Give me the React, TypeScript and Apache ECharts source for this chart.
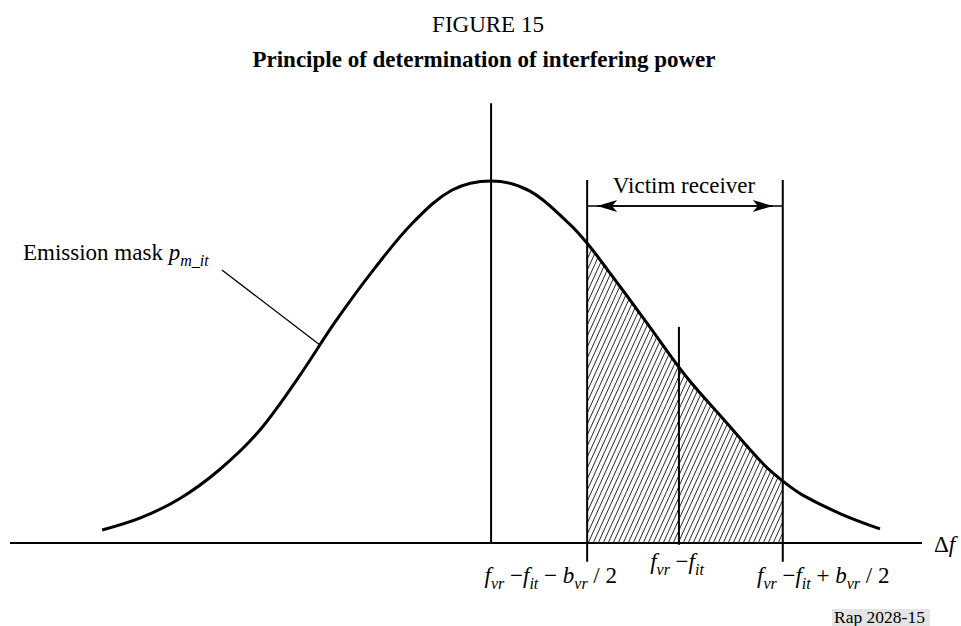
import React, { useEffect, useRef } from 'react';
import * as echarts from 'echarts';

// ---- Data ----
// Emission mask curve: relative frequency offset (x) vs. level (y, peak = 100)
const curveX = [-10, -9, -8, -7, -6, -5, -4, -3, -2, -1, 0, 1, 2, 2.47, 3, 4, 5, 6, 7, 7.5, 8, 9, 10];
const curveY = [3.6, 7.0, 12.3, 20.1, 30.5, 45.0, 61.2, 75.8, 88.6, 97.5, 100, 97.2, 88.3, 82.8, 75.4, 60.9, 46.2, 33.9, 21.8, 17.1, 13.3, 8.0, 3.9];

// Victim receiver band edges and centre (fvr - fit)
const BAND_LO = 2.47;
const BAND_HI = 7.5;
const BAND_CENTER = 4.83;

// Vertical reference lines: x, bottom, top
const vLineX = [0, BAND_LO, BAND_HI, BAND_CENTER];
const vLineBottom = [0, -5.2, -5.2, -0.5];
const vLineTop = [121.5, 100.3, 100.3, 59.7];

// Arrow level for "Victim receiver"
const ARROW_Y = 93.1;

// Leader line for the "Emission mask" label
const leaderX = [-6.92, -4.4];
const leaderY = [75.4, 54.7];

// Axis extents
const X_MIN = -12.37;
const X_MAX = 11.08;
const Y_MIN = -22.93;
const Y_MAX = 150;

// Texts
const FIG_NUMBER = 'FIGURE 15';
const FIG_TITLE = 'Principle of determination of interfering power';
const VICTIM_LABEL = 'Victim receiver';
const REF_LABEL = 'Rap 2028-15';

const FONT = "'Liberation Serif', 'Times New Roman', Times, serif";

const hatchSvg =
  '<svg xmlns="http://www.w3.org/2000/svg" width="5" height="11">' +
  '<path d="M-5 11L0 0M0 11L5 0M5 11L10 0" stroke="#000" stroke-width="0.85" fill="none"/></svg>';
const hatchUrl = 'data:image/svg+xml;charset=utf-8,' + encodeURIComponent(hatchSvg);

const rich: any = {
  n: { fontFamily: FONT, fontSize: 23, fill: '#000', lineHeight: 30 },
  i: { fontFamily: FONT, fontSize: 23, fontStyle: 'italic', fill: '#000', lineHeight: 30 },
  s: { fontFamily: FONT, fontSize: 16, fontStyle: 'italic', fill: '#000', height: 13, lineHeight: 30, verticalAlign: 'bottom' },
};

function buildOption(): any {
  const curve = curveX.map((x, k) => [x, curveY[k]]);
  const band = curve.filter((p) => p[0] >= BAND_LO && p[0] <= BAND_HI);
  const arrowOff = 10 / ((961 - 10 - 39) / (X_MAX - X_MIN));

  const lineSeries = (data: number[][], width: number, z = 4) => ({
    type: 'line',
    data,
    symbol: 'none',
    silent: true,
    z,
    lineStyle: { color: '#000', width },
  });

  const series: any[] = [
    {
      type: 'line',
      data: band,
      smooth: 0.35,
      symbol: 'none',
      silent: true,
      z: 1,
      lineStyle: { width: 0, opacity: 0 },
      areaStyle: {
        opacity: 1,
        color: { image: hatchUrl, repeat: 'repeat', imageWidth: 5, imageHeight: 11 },
      },
    },
    {
      type: 'line',
      data: curve,
      smooth: 0.35,
      symbol: 'none',
      silent: true,
      z: 5,
      lineStyle: { color: '#000', width: 3 },
    },
    lineSeries([[X_MIN, 0], [X_MAX, 0]], 2),
    lineSeries(leaderX.map((x, k) => [x, leaderY[k]]), 1.3),
    ...vLineX.map((x, k) => lineSeries([[x, vLineBottom[k]], [x, vLineTop[k]]], 2)),
    {
      ...lineSeries([[BAND_LO, ARROW_Y], [BAND_HI, ARROW_Y]], 1.6),
      markLine: {
        silent: true,
        symbol: ['arrow', 'arrow'],
        symbolSize: [9, 20],
        label: { show: false },
        lineStyle: { color: '#000', width: 1.6, type: 'solid' },
        data: [[{ coord: [BAND_LO + arrowOff, ARROW_Y] }, { coord: [BAND_HI - arrowOff, ARROW_Y] }]],
      },
    },
  ];

  const text = (x: number, y: number, t: string, align: string, extra: any = {}) => ({
    type: 'text',
    x,
    y,
    silent: true,
    style: {
      text: t,
      fill: '#000',
      fontFamily: FONT,
      fontSize: 23,
      textAlign: align,
      textVerticalAlign: 'middle',
      rich,
      ...extra,
    },
  });

  const graphic: any[] = [
    text(488, 24, FIG_NUMBER, 'center'),
    text(484, 59, FIG_TITLE, 'center', { fontWeight: 'bold' }),
    text(684, 185, VICTIM_LABEL, 'center'),
    text(23, 252, '{n|Emission mask }{i|p}{s|m_it}', 'left'),
    text(934, 544, '{n|Δ}{i|f}', 'left'),
    text(677, 561, '{i|f}{s|vr}{n| −}{i|f}{s|it}', 'center'),
    text(617, 575, '{i|f}{s|vr}{n| −}{i|f}{s|it}{n| − }{i|b}{s|vr}{n| / 2}', 'right'),
    text(757, 575, '{i|f}{s|vr}{n| −}{i|f}{s|it}{n| + }{i|b}{s|vr}{n| / 2}', 'left'),
    {
      type: 'rect',
      silent: true,
      shape: { x: 832, y: 609, width: 98, height: 17 },
      style: { fill: '#e4e4e4' },
    },
    text(834, 616.5, REF_LABEL, 'left', { fontSize: 17.5, rich: undefined }),
  ];

  return {
    animation: false,
    backgroundColor: '#ffffff',
    grid: { left: 10, right: 39, top: 0, bottom: 0, containLabel: false },
    xAxis: { type: 'value', min: X_MIN, max: X_MAX, show: false },
    yAxis: { type: 'value', min: Y_MIN, max: Y_MAX, show: false },
    series,
    graphic,
  };
}

export default function App() {
  const ref = useRef<HTMLDivElement>(null);
  useEffect(() => {
    if (!ref.current) return;
    const chart = echarts.init(ref.current, null, { renderer: 'svg' });
    chart.setOption(buildOption());
    return () => chart.dispose();
  }, []);
  return (
    <div
      ref={ref}
      style={{ position: 'absolute', left: 0, top: 0, width: 961, height: 626, background: '#fff' }}
    />
  );
}
